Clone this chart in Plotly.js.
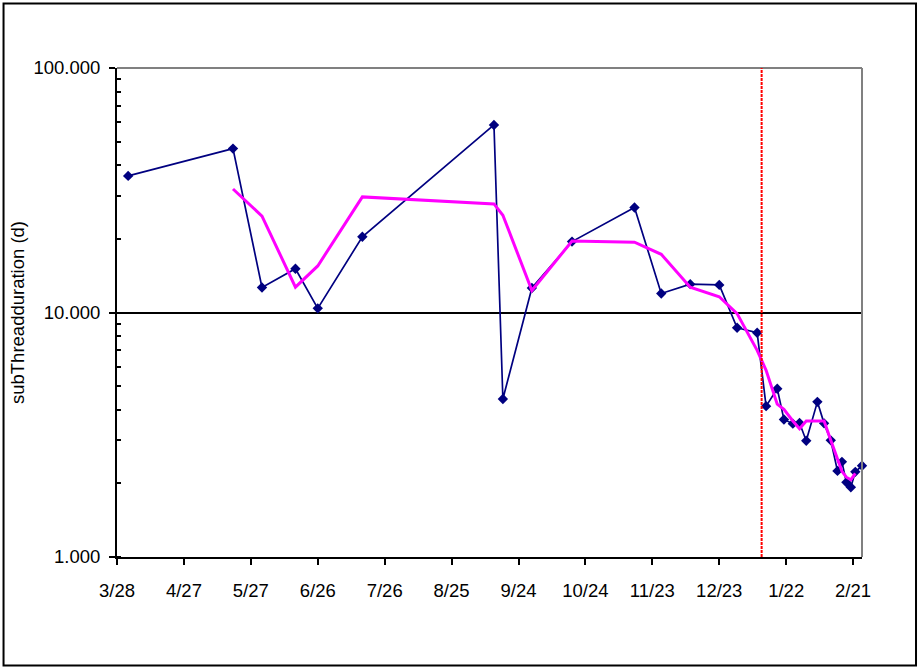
<!DOCTYPE html>
<html>
<head>
<meta charset="utf-8">
<script src="https://cdn.plot.ly/plotly-3.0.1.min.js"></script>
<style>
  html, body { margin: 0; padding: 0; background: #ffffff; }
  #chart { width: 920px; height: 671px; }
</style>
</head>
<body>
<div id="chart"></div>
<script>
// ---- data ----
const threadDates = [
  '2006-04-02','2006-05-19','2006-06-01','2006-06-16','2006-06-26','2006-07-16',
  '2006-09-13','2006-09-17','2006-09-30','2006-10-18','2006-11-15','2006-11-27',
  '2006-12-10','2006-12-23','2006-12-31','2007-01-09','2007-01-13','2007-01-18',
  '2007-01-21','2007-01-25','2007-01-28','2007-01-31','2007-02-05','2007-02-08',
  '2007-02-11','2007-02-14','2007-02-16','2007-02-18','2007-02-20','2007-02-22',
  '2007-02-25'
];
const durationDays = [
  36.2, 46.8, 12.66, 15.1, 10.4, 20.4,
  58.5, 4.43, 12.6, 19.5, 26.9, 11.96,
  13.06, 12.97, 8.66, 8.26, 4.14, 4.88,
  3.65, 3.51, 3.53, 2.99, 4.31, 3.52,
  3.0, 2.25, 2.45, 2.02, 1.93, 2.23,
  2.36
];
// trend line (magenta), drawn at the 2nd..30th dates
const trendDates = threadDates.slice(1, 30);
const trendValues = [
  32.0, 24.8, 12.7, 15.5, 29.7, 27.8, 25.0, 12.3, 19.6, 19.4,
  17.3, 12.7, 11.6, 9.9, 7.0, 5.8, 4.22, 4.02, 3.6, 3.35,
  3.6, 3.6, 3.6, 3.0, 2.52, 2.24, 2.12, 2.07, 2.2
];
const markerDate = '2007-01-11';          // red dotted vertical line
const xRange = ['2006-03-28', '2007-02-25'];
const xTick0 = '2006-03-28';
const xTickDays = 30;
const yTickVals = [1, 10, 100];
const yTickText = ['1.000', '10.000', '100.000'];
const yTitle = 'subThreadduration (d)';

// ---- chart ----
const FONT = 'Liberation Sans, Arial, sans-serif';
const traces = [
  {
    x: threadDates, y: durationDays, type: 'scatter', mode: 'lines+markers',
    line: {color: '#000080', width: 1.7},
    marker: {symbol: 'diamond', size: 8, color: '#000080'},
    cliponaxis: false,
    hoverinfo: 'x+y', showlegend: false
  },
  {
    x: trendDates, y: trendValues, type: 'scatter', mode: 'lines',
    line: {color: '#FF00FF', width: 3},
    hoverinfo: 'x+y', showlegend: false
  }
];

const layout = {
  width: 920, height: 671,
  margin: {l: 117, r: 58, t: 68, b: 114, pad: 0},
  paper_bgcolor: '#ffffff', plot_bgcolor: '#ffffff',
  font: {family: FONT, size: 18.5, color: '#000000'},
  showlegend: false,
  xaxis: {
    type: 'date', range: xRange, autorange: false,
    tick0: xTick0, dtick: xTickDays * 86400000, tickformat: '%-m/%-d',
    ticks: 'outside', ticklen: 6, tickwidth: 2, tickcolor: '#000',
    showline: true, linecolor: '#000', linewidth: 2,
    showgrid: false, zeroline: false,
    ticklabelstandoff: 10,
    tickfont: {family: FONT, size: 18.5, color: '#000'}
  },
  yaxis: {
    type: 'log', range: [0, 2], autorange: false,
    tickmode: 'array', tickvals: yTickVals, ticktext: yTickText,
    ticks: 'outside', ticklen: 6, tickwidth: 2, tickcolor: '#000',
    minor: {ticks: 'inside', ticklen: 4, tickwidth: 2, tickcolor: '#000', dtick: 'D1', showgrid: false},
    showline: true, linecolor: '#000', linewidth: 2,
    showgrid: true, gridcolor: '#000', gridwidth: 2,
    zeroline: false,
    ticklabelstandoff: 5,
    tickfont: {family: FONT, size: 18.5, color: '#000'},
    title: {text: yTitle, font: {family: FONT, size: 18.5, color: '#000'}, standoff: 4}
  },
  shapes: [
    // top and right plot border (grey)
    {type: 'line', xref: 'paper', yref: 'paper', x0: 0, x1: 1, y0: 1, y1: 1,
     line: {color: '#808080', width: 2}},
    {type: 'line', xref: 'paper', yref: 'paper', x0: 1, x1: 1, y0: 0, y1: 1,
     line: {color: '#808080', width: 2}},
    // red dotted marker line
    {type: 'line', xref: 'x', yref: 'paper', x0: markerDate, x1: markerDate, y0: 0, y1: 1,
     line: {color: '#FF0000', width: 2, dash: '3px,1px'}},
    // outer chart frame
    {type: 'rect', xref: 'paper', yref: 'paper',
     x0: -0.1523, x1: 1.0725, y0: -0.2219, y1: 1.1319,
     line: {color: '#000', width: 2}, fillcolor: 'rgba(0,0,0,0)'}
  ]
};

Plotly.newPlot('chart', traces, layout, {staticPlot: true, displayModeBar: false});
</script>
</body>
</html>
